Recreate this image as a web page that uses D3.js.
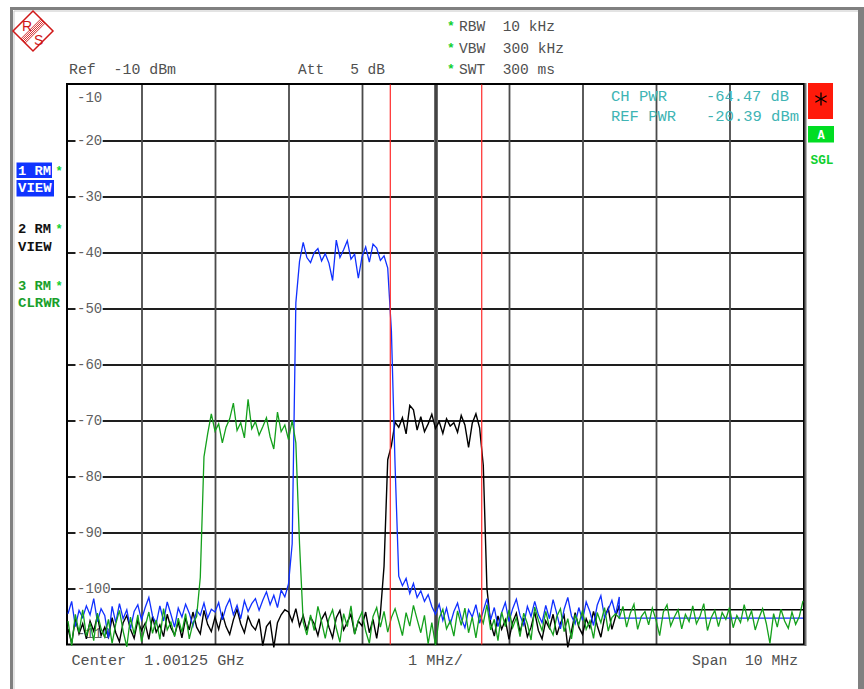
<!DOCTYPE html>
<html><head><meta charset="utf-8">
<script src="https://cdn.jsdelivr.net/npm/d3@7"></script>
<style>body{margin:0;background:#fff}svg{display:block}text{font-family:"Liberation Mono","Courier New",monospace;white-space:pre}</style>
</head><body><svg id="c" width="864" height="689"></svg>
<script>
// ---------- data ----------
const startMHz = 996.25, stopMHz = 1006.25, stepMHz = 0.05;
const refLevel = -10, bottomLevel = -110;
const yTickValues = [-10,-20,-30,-40,-50,-60,-70,-80,-90,-100,-110];
const yTickLabels = ["-10","-20","-30","-40","-50","-60","-70","-80","-90","-100","-110"];
const freqGridMHz = [997.25,998.25,999.25,1000.25,1001.25,1002.25,1003.25,1004.25,1005.25];
const markerMHz = [1000.635, 1001.879];
// trace 1 (blue, RM VIEW)
const trace1 = [
-104.5,-102.3,-106.8,-103.9,-105.2,-103.1,-104.7,-101.8,-105.9,-103.6,
-104.8,-108.9,-103.2,-106.1,-102.7,-105.4,-103.8,-107.2,-104.1,-102.9,
-105.6,-103.4,-101.6,-104.9,-106.3,-103.1,-105.8,-102.4,-104.6,-106.9,
-103.5,-105.1,-102.8,-104.4,-106.7,-103.9,-104.8,-102.6,-105.3,-103.7,
-104.2,-102.5,-105.6,-103.3,-101.9,-104.7,-103.0,-105.4,-102.2,-104.1,
-102.7,-101.8,-103.9,-102.1,-100.6,-102.9,-101.2,-103.4,-100.3,-101.5,
-99.2,-92.0,-49.0,-41.6,-38.2,-40.9,-41.8,-40.0,-39.3,-41.5,
-40.2,-41.9,-45.0,-37.8,-40.9,-39.5,-37.9,-41.2,-40.3,-44.6,
-40.8,-39.0,-41.7,-38.5,-39.2,-41.4,-40.6,-42.8,-54.0,-78.0,
-97.8,-99.5,-98.2,-100.9,-99.1,-101.6,-100.4,-102.3,-101.1,-103.2,
-104.6,-102.8,-105.7,-103.5,-106.4,-104.1,-102.6,-105.3,-107.0,-103.8,
-105.1,-102.9,-106.2,-104.0,-101.8,-105.6,-103.4,-106.8,-104.3,-102.5,
-105.9,-103.6,-101.9,-104.8,-106.5,-103.2,-105.0,-102.3,-104.7,-106.1,
-103.0,-105.4,-102.0,-104.5,-107.2,-103.7,-101.6,-104.9,-106.3,-103.4,
-105.7,-102.4,-104.1,-106.6,-103.0,-101.3,-105.2,-103.8,-102.1,-104.6,-101.5];
const trace1TailDbm = -105.3;
// trace 2 (black, RM VIEW)
const trace2 = [
-107.2,-109.8,-105.4,-108.1,-106.3,-109.0,-105.8,-107.6,-104.9,-108.4,
-106.9,-108.7,-105.2,-107.9,-109.5,-106.1,-104.8,-107.3,-108.9,-105.7,
-107.5,-106.2,-109.1,-105.0,-107.8,-106.5,-108.6,-104.6,-107.0,-108.3,
-106.0,-108.8,-105.3,-107.4,-104.2,-106.9,-108.1,-103.9,-106.4,-107.7,
-105.1,-107.3,-104.5,-106.8,-108.2,-105.6,-103.7,-106.3,-107.9,-105.0,
-106.6,-107.4,-105.4,-110.2,-106.8,-105.9,-110.5,-106.1,-104.7,-103.8,
-104.2,-105.9,-103.6,-106.7,-104.8,-107.5,-105.1,-106.3,-108.4,-105.5,
-104.3,-106.9,-108.8,-105.2,-103.9,-107.4,-106.0,-104.6,-108.1,-105.8,
-106.7,-104.2,-107.9,-105.5,-108.9,-104.5,-96.0,-77.0,-74.5,-70.3,
-71.2,-69.5,-72.4,-67.3,-68.1,-71.7,-69.3,-72.0,-70.6,-68.9,
-71.4,-70.2,-72.3,-69.7,-71.0,-70.4,-72.1,-69.1,-70.8,-74.8,
-70.5,-68.8,-71.3,-78.0,-100.0,-106.2,-108.5,-104.9,-107.3,-105.6,
-109.1,-106.0,-104.4,-107.8,-105.3,-108.6,-106.9,-104.2,-107.5,-109.0,
-105.8,-107.1,-104.6,-108.3,-106.2,-104.8,-110.5,-107.6,-104.3,-106.9,
-108.2,-105.4,-107.0,-104.1,-106.6,-108.7,-105.2,-103.5,-107.3,-105.0,-103.0];
const trace2TailDbm = -103.8;
// trace 3 (green, RM CLRWR)
const trace3 = [
-105.8,-110.2,-104.6,-107.9,-103.8,-108.5,-106.1,-109.3,-104.4,-107.2,
-108.7,-105.5,-109.8,-106.3,-103.9,-107.6,-110.4,-105.1,-108.2,-104.7,
-109.5,-106.8,-104.2,-108.0,-105.6,-109.1,-103.6,-107.4,-106.0,-108.6,
-105.3,-107.8,-104.5,-109.0,-106.2,-105.0,-98.0,-76.5,-72.4,-68.8,
-71.9,-70.6,-74.0,-71.2,-69.7,-66.9,-71.8,-70.4,-73.1,-66.2,
-71.5,-70.2,-72.6,-71.1,-69.5,-72.9,-75.1,-68.5,-72.0,-70.8,
-73.4,-70.0,-74.0,-92.0,-106.0,-108.3,-104.7,-107.5,-103.2,-105.9,
-108.9,-105.4,-103.8,-107.1,-109.6,-104.5,-106.8,-103.1,-108.2,-105.7,
-104.2,-107.6,-109.8,-105.0,-103.4,-106.9,-104.1,-107.8,-105.2,-103.6,
-105.9,-108.4,-104.3,-106.7,-103.0,-105.5,-107.9,-104.8,-109.9,-106.1,
-110.1,-105.3,-103.7,-107.2,-105.8,-108.5,-104.0,-106.6,-103.5,-107.9,
-105.1,-108.8,-104.6,-106.2,-102.9,-107.4,-105.5,-109.3,-104.2,-106.8,
-103.8,-107.0,-105.2,-108.6,-104.4,-106.3,-109.2,-103.3,-105.7,-107.5,
-104.1,-106.9,-108.3,-105.0,-103.6,-107.7,-105.4,-109.0,-104.7,-106.5,
-103.9,-107.3,-105.8,-108.9,-104.3,-106.1,-103.4,-107.6,-105.2,-104.5,
-105.3,-103.2,-106.9,-104.4,-102.8,-107.3,-105.0,-104.1,-106.5,-103.5,
-105.6,-108.4,-104.2,-102.9,-106.7,-105.1,-103.8,-107.2,-104.6,-105.9,
-103.1,-106.3,-104.9,-102.7,-107.5,-105.2,-103.9,-106.8,-104.3,-105.5,
-103.4,-107.0,-104.8,-106.1,-102.9,-105.7,-104.0,-107.4,-105.3,-103.6,
-106.2,-109.8,-104.5,-106.9,-103.7,-105.8,-107.1,-104.2,-106.4,-105.0,-102.2];
const settingsLines = ["RBW  10 kHz","VBW  300 kHz","SWT  300 ms"];
const traceLabels = [["1 RM","VIEW"],["2 RM","VIEW"],["3 RM","CLRWR"]];
const chPwr = ["CH PWR","-64.47 dB"], refPwr = ["REF PWR","-20.39 dBm"];

// ---------- drawing ----------
const svg = d3.select("#c");
svg.append("rect").attr("width",864).attr("height",689).attr("fill","#fff");
const X0=68, X1=803, Y0=84.5, Y1=644.5;
const x = d3.scaleLinear().domain([startMHz, stopMHz]).range([X0, X1]);
const y = d3.scaleLinear().domain([bottomLevel, refLevel]).range([Y1, Y0]);

// outer gray frame
svg.append("path").attr("d","M11.5,689 V8.5 H858").attr("fill","none").attr("stroke","#808080").attr("stroke-width",3);
svg.append("path").attr("d","M14,689 V11 H858").attr("fill","none").attr("stroke","#c8c8c8").attr("stroke-width",1);
svg.append("rect").attr("x",858).attr("y",7).attr("width",6).attr("height",682).attr("fill","#808080");

// R&S logo
const lg = svg.append("g").attr("stroke","#d01818").attr("fill","none");
lg.append("path").attr("d","M33,11 L53,31 L33,51 L13,31 Z").attr("stroke-width",1.5);
[-3,-1.5,0,1.5,3].forEach(d=>{const o=d*0.7071;
  lg.append("line").attr("x1",43+o).attr("y1",21+o).attr("x2",23+o).attr("y2",41+o).attr("stroke-width",0.9);});
svg.append("text").attr("x",22).attr("y",31).attr("font-size",14).attr("fill","#d01818").style("font-family","Liberation Sans, Arial").text("R");
svg.append("text").attr("x",34).attr("y",45).attr("font-size",14).attr("fill","#d01818").style("font-family","Liberation Sans, Arial").text("S");

function txt(xp, yp, s, opts={}) {
  const t = svg.append("text").attr("x",xp).attr("y",yp).attr("xml:space","preserve").text(s)
    .attr("font-size",opts.size||14).attr("fill",opts.fill||"#505050")
    .attr("font-weight",opts.weight||"normal");
  if (opts.len) t.attr("textLength",opts.len).attr("lengthAdjust","spacingAndGlyphs");
  if (opts.anchor) t.attr("text-anchor",opts.anchor);
  return t;
}
// header
txt(69,74,"Ref  -10 dBm",{len:107});
txt(298,74,"Att   5 dB",{len:87});
const setLens=[96,105,96];
settingsLines.forEach((s,i)=>{
  txt(447,[31,53,74][i]-1,"*",{size:13,fill:"#10d030",weight:"bold"});
  txt(459,[31,53,74][i],s,{len:setLens[i]});
});

// grid
const gy = svg.append("g").attr("transform",`translate(${X0},0)`)
  .call(d3.axisLeft(y).tickValues(yTickValues.slice(1,-1)).tickSize(-(X1-X0)).tickFormat(""));
gy.select(".domain").remove();
gy.selectAll("line").attr("stroke","#1e1e1e").attr("stroke-width",1.8);
const gx = svg.append("g").attr("transform",`translate(0,${Y1})`)
  .call(d3.axisBottom(x).tickValues(freqGridMHz).tickSize(-(Y1-Y0)).tickFormat(""));
gx.select(".domain").remove();
gx.selectAll("line").attr("stroke",d=>d===1001.25?"#6a6a6a":"#4a4a4a").attr("stroke-width",d=>d===1001.25?4:1.8);
gx.selectAll(".tick").filter(d=>d===1001.25).append("line").attr("y2",-(Y1-Y0)).attr("stroke","#2a2a2a").attr("stroke-width",1.2);

// y labels
yTickValues.forEach((v,i)=>{
  const lab = yTickLabels[i];
  let by = y(v)+4.8;
  if (i===0) by = y(v)+17.5;
  if (i===yTickValues.length-1) by = y(v)-7;
  if (i>0 && i<yTickValues.length-1)
    svg.append("rect").attr("x",75.5).attr("y",y(v)-3).attr("width",lab.length*8.4+2).attr("height",6).attr("fill","#fff");
  txt(77,by,lab,{fill:"#606060"});
});

// frame
svg.append("rect").attr("x",67).attr("y",84).attr("width",737).attr("height",560.5)
  .attr("fill","none").attr("stroke","#000").attr("stroke-width",2);
svg.append("line").attr("x1",805.5).attr("x2",805.5).attr("y1",83).attr("y2",646).attr("stroke","#707070").attr("stroke-width",2);

// traces
const line = d3.line().x(d=>x(d[0])).y(d=>y(d[1]));
function pts(arr, tail) {
  const p = arr.map((v,i)=>[startMHz+i*stepMHz, v]);
  if (tail!==undefined) { const f=startMHz+(arr.length-1)*stepMHz; p.push([f,tail]); p.push([stopMHz,tail]); }
  return p;
}
const plot = svg.append("g");
plot.append("path").datum(pts(trace2,trace2TailDbm)).attr("d",line).attr("fill","none").attr("stroke","#000").attr("stroke-width",1.4);
plot.append("path").datum(pts(trace1,trace1TailDbm)).attr("d",line).attr("fill","none").attr("stroke","#1030ff").attr("stroke-width",1.3);
plot.append("path").datum(pts(trace3)).attr("d",line).attr("fill","none").attr("stroke","#14a01c").attr("stroke-width",1.3);

// markers
markerMHz.forEach(m=>{
  svg.append("line").attr("x1",x(m)).attr("x2",x(m)).attr("y1",Y0).attr("y2",Y1).attr("stroke","#ff2a2a").attr("stroke-width",1.2);
});

// channel power readout
txt(611,101,chPwr[0],{fill:"#40b4b4",len:56});
txt(706,101,chPwr[1],{fill:"#40b4b4",len:83});
txt(611,121,refPwr[0],{fill:"#40b4b4",len:65});
txt(706,121,refPwr[1],{fill:"#40b4b4",len:93});

// bottom
txt(71.5,665,"Center  1.00125 GHz",{len:173});
txt(408,665,"1 MHz/",{len:55});
txt(692,665,"Span  10 MHz",{len:106});

// left trace labels
svg.append("rect").attr("x",16.5).attr("y",162.5).attr("width",35.5).attr("height",15.5).attr("fill","#1034ff");
svg.append("rect").attr("x",16.5).attr("y",180).attr("width",37.5).attr("height",16.5).attr("fill","#1034ff");
const lblCols=["#fff","#111","#18a02a"];
const lblY=[[175,192],[233,251],[290,307]];
traceLabels.forEach((p,i)=>{
  txt(18,lblY[i][0],p[0],{size:12,weight:"bold",fill:lblCols[i],len:33});
  txt(18,lblY[i][1],p[1],{size:12,weight:"bold",fill:lblCols[i],len:p[1].length*8.4});
  txt(55.5,lblY[i][0]-0.5,"*",{size:12,weight:"bold",fill:"#10d030"});
});

// right status boxes
svg.append("rect").attr("x",808).attr("y",83).attr("width",25).attr("height",36).attr("fill","#ff1a0a");
const sg = svg.append("g").attr("stroke","#000").attr("stroke-width",1.3);
[90,30,150].forEach(a=>{const r=a*Math.PI/180, L=6.5;
  sg.append("line").attr("x1",821-L*Math.cos(r)).attr("y1",99-L*Math.sin(r)).attr("x2",821+L*Math.cos(r)).attr("y2",99+L*Math.sin(r));});
svg.append("rect").attr("x",808).attr("y",126).attr("width",26).attr("height",16.5).attr("fill","#00dd22");
txt(821,138.5,"A",{size:12,weight:"bold",fill:"#fff",anchor:"middle"});
txt(810.5,163.5,"SGL",{size:12,weight:"bold",fill:"#10d030",len:23});
</script></body></html>
